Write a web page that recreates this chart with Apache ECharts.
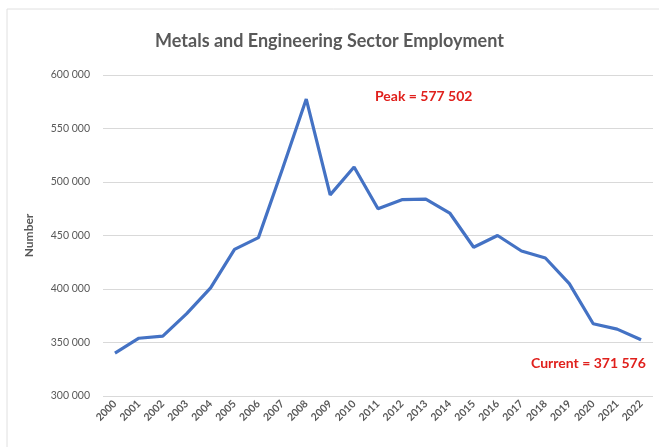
<!DOCTYPE html>
<html>
<head>
<meta charset="utf-8">
<script src="https://cdn.jsdelivr.net/npm/echarts@6/dist/echarts.min.js"></script>
<style>html,body{margin:0;padding:0;background:#fff}#c{width:659px;height:447px}</style>
</head>
<body>
<div id="c"></div>
<script>
const years = ['2000','2001','2002','2003','2004','2005','2006','2007','2008','2009','2010','2011','2012','2013','2014','2015','2016','2017','2018','2019','2020','2021','2022'];
const employment = [340000,354000,356000,377000,401000,437000,448000,512000,577502,488000,514000,475000,483500,484000,471000,439000,450000,435500,429000,405000,367500,362500,352500];
const yTicks = [300000,350000,400000,450000,500000,550000,600000];
const peakLabel = 'Peak = 577 502';
const currentLabel = 'Current = 371 576';

function fmt(v){ return String(v).replace(/\B(?=(\d{3})+(?!\d))/g,' '); }

const chart = echarts.init(document.getElementById('c'));
chart.setOption({
  animation:false,
  backgroundColor:'#fff',
  title:{text:'Metals and Engineering Sector Employment',left:'center',top:27,
    textStyle:{fontFamily:'Lato',fontSize:18,fontWeight:'bold',color:'#595959'}},
  grid:{left:103,right:6,top:75,bottom:51,containLabel:false},
  xAxis:{type:'category',data:years,boundaryGap:true,
    axisLine:{show:false},axisTick:{show:false},
    axisLabel:{rotate:45,interval:0,fontFamily:'Lato',fontSize:10.5,fontWeight:'bold',color:'#595959',margin:6}},
  yAxis:{type:'value',min:yTicks[0],max:yTicks[yTicks.length-1],interval:50000,
    name:'Number',nameLocation:'middle',nameGap:68,
    nameTextStyle:{fontFamily:'Lato',fontSize:12,fontWeight:'bold',color:'#595959'},
    axisLabel:{formatter:fmt,fontFamily:'Lato',fontSize:10.5,color:'#595959',margin:13},
    axisLine:{show:false},axisTick:{show:false},
    splitLine:{lineStyle:{color:'#d9d9d9',width:1}}},
  series:[{type:'line',data:employment,symbol:'none',smooth:false,
    lineStyle:{color:'#4472C4',width:3.2}}],
  graphic:[
    {type:'rect',shape:{x:7,y:9,width:700,height:500},style:{fill:'none',stroke:'#e0e0e0',lineWidth:1},silent:true,z:-1},
    {type:'text',left:375,top:89,style:{text:peakLabel,fill:'#e0201c',font:'bold 14px Lato'}},
    {type:'text',left:531,top:356,style:{text:currentLabel,fill:'#e0201c',font:'bold 14px Lato'}}
  ]
});
</script>
</body>
</html>
